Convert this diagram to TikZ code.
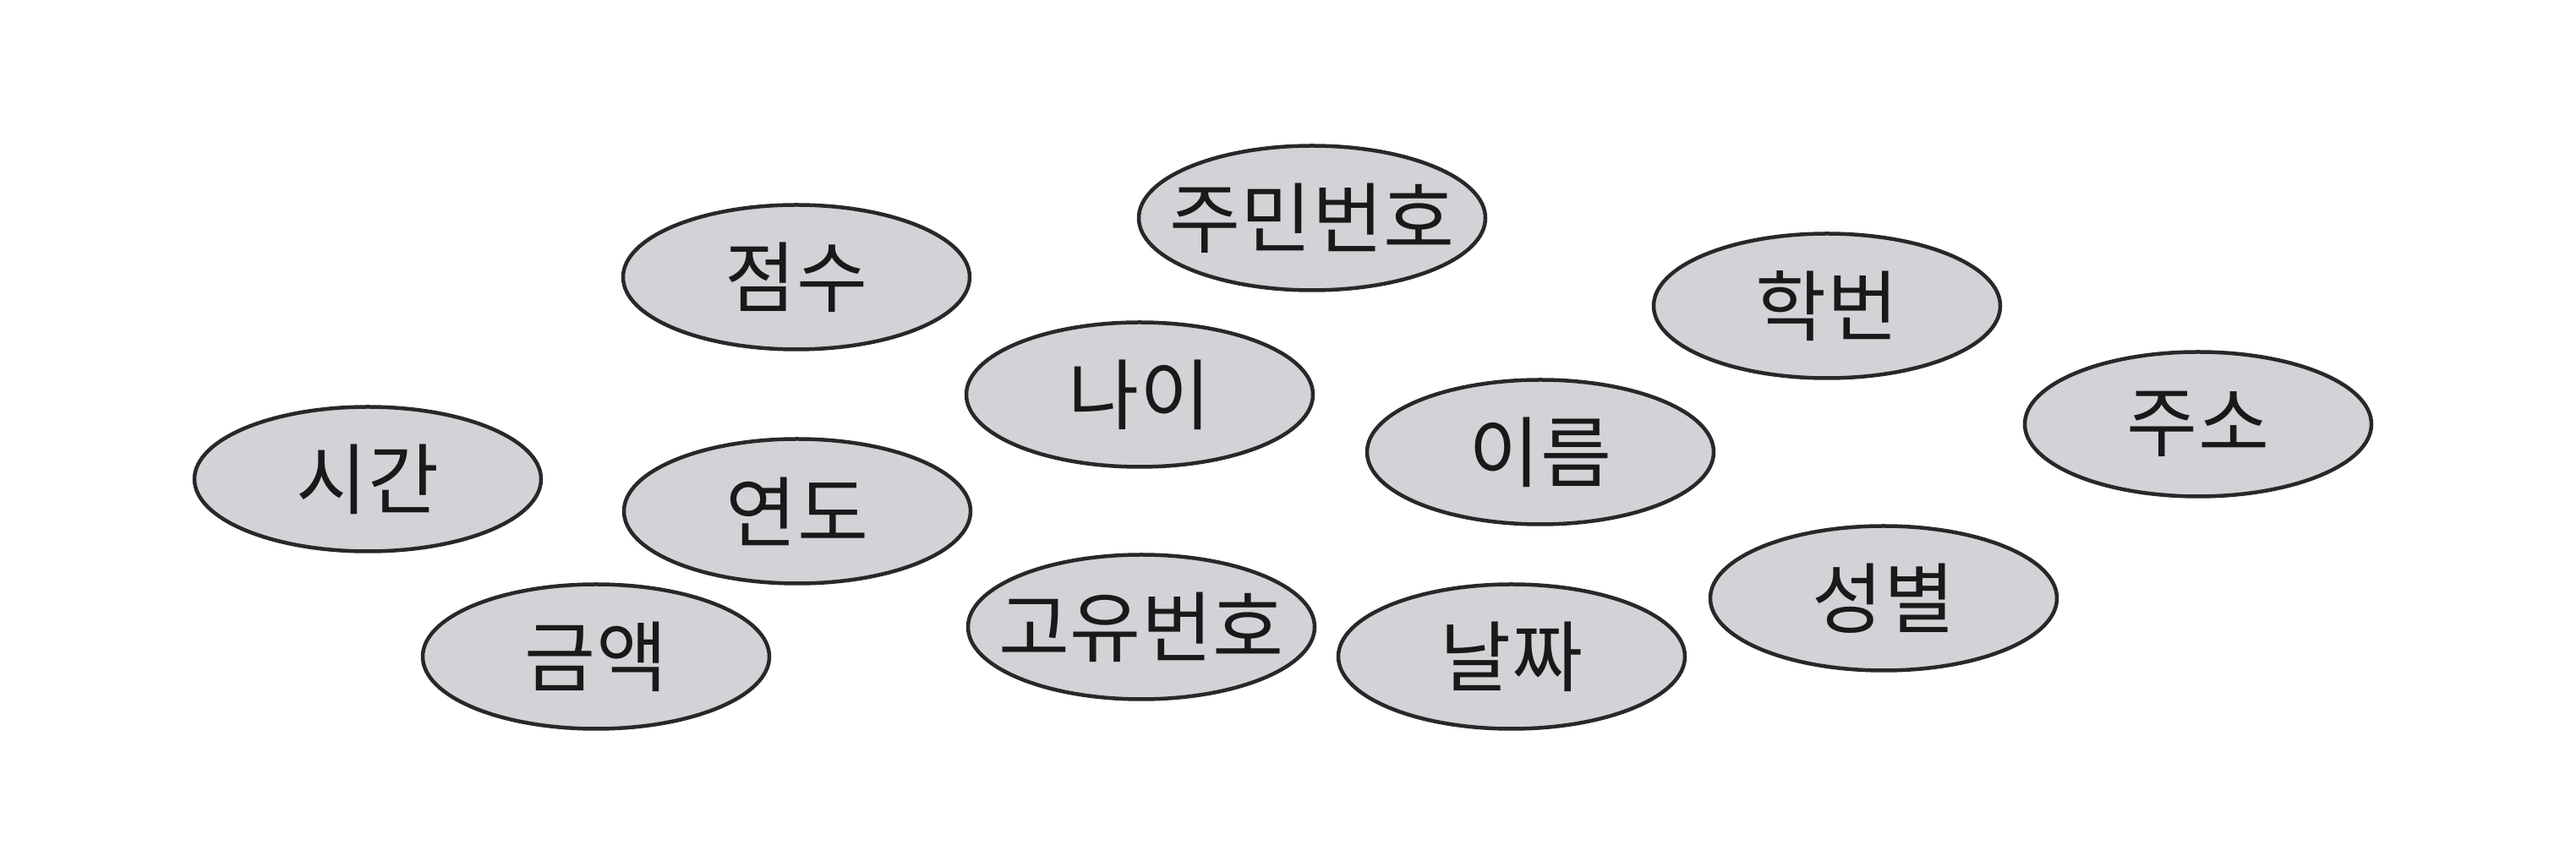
\documentclass[tikz,border=0pt]{standalone}
\usepackage{fontspec}
\newfontfamily\kor{Noto Sans CJK KR}
\usetikzlibrary{shapes.geometric}
\definecolor{attrfill}{RGB}{209,211,214}
\definecolor{attrline}{RGB}{40,40,40}
\newcommand{\lbl}[1]{\makebox[0pt]{#1}}
\tikzset{
  attr/.style={ellipse, draw=attrline, fill=attrfill, line width=0.045cm,
    minimum width=4.10cm, minimum height=1.71cm, inner sep=0pt,
    font=\kor\fontsize{26}{26}\selectfont, text=black!90}
}
\begin{document}
\begin{tikzpicture}
\useasboundingbox (0,0) rectangle (30.47,-10);
\node[attr] (jumin) at (15.52,-2.58) {\lbl{주민번호}};
\node[attr] (jeomsu) at (9.42,-3.28) {\lbl{점수}};
\node[attr] (hakbeon) at (21.61,-3.62) {\lbl{학번}};
\node[attr] (nai) at (13.48,-4.67) {\lbl{나이}};
\node[attr] (ireum) at (18.22,-5.35) {\lbl{이름}};
\node[attr] (juso) at (26.00,-5.02) {\lbl{주소}};
\node[attr] (sigan) at (4.35,-5.67) {\lbl{시간}};
\node[attr] (yeondo) at (9.43,-6.05) {\lbl{연도}};
\node[attr] (seongbyeol) at (22.28,-7.08) {\lbl{성별}};
\node[attr] (goyu) at (13.50,-7.42) {\lbl{고유번호}};
\node[attr] (geumaek) at (7.05,-7.77) {\lbl{금액}};
\node[attr] (naljja) at (17.88,-7.77) {\lbl{날짜}};
\end{tikzpicture}
\end{document}
